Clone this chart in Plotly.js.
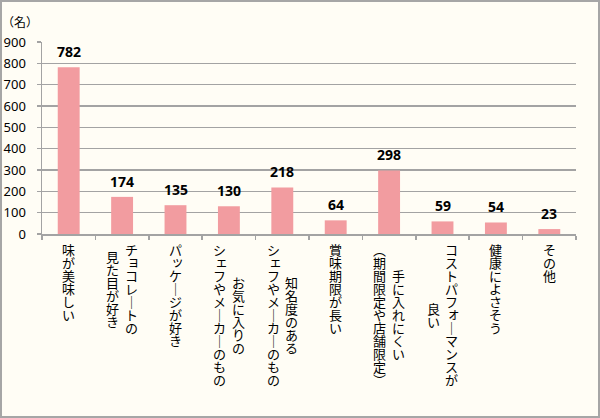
<!DOCTYPE html>
<html>
<head>
<meta charset="utf-8">
<script src="https://cdn.plot.ly/plotly-3.0.1.min.js"></script>
<style>
  html, body { margin: 0; padding: 0; background: #fffdf5; }
  #wrap { position: relative; width: 600px; height: 418px; }
  #chart { width: 600px; height: 418px; }
  #frame { position: absolute; left: 0; top: 0; width: 600px; height: 418px; box-sizing: border-box;
           border: 2px solid #a6a6a6; pointer-events: none; }
</style>
</head>
<body>
<div id="wrap"><div id="chart"></div><div id="frame"></div></div>
<script>
// ---- data ----
const categories = ["味が美味しい", "チョコレートの見た目が好き", "パッケージが好き",
  "お気に入りのシェフやメーカーのもの", "知名度のあるシェフやメーカーのもの", "賞味期限が長い",
  "手に入れにくい（期間限定や店舗限定）", "コストパフォーマンスが良い", "健康によさそう", "その他"];
// label lines, first line drawn as the rightmost column (vertical writing)
const labelLines = [
  ["味が美味しい"],
  ["チョコレートの", "見た目が好き"],
  ["パッケージが好き"],
  ["お気に入りの", "シェフやメーカーのもの"],
  ["知名度のある", "シェフやメーカーのもの"],
  ["賞味期限が長い"],
  ["手に入れにくい", "（期間限定や店舗限定）"],
  ["コストパフォーマンスが", "良い"],
  ["健康によさそう"],
  ["その他"]
];
const values = [782, 174, 135, 130, 218, 64, 298, 59, 54, 23];
const yTickVals = [0, 100, 200, 300, 400, 500, 600, 700, 800, 900];
const unitLabel = "（名）";

// ---- style ----
const barColor = "#f29ca0";
const gridColor = "#a3a3a3";
const bg = "#fffdf5";
const jpFont = "Noto Sans CJK JP";

const verticalForms = { "ー": "｜", "（": "︵", "）": "︶" };
const smallKana = "ョェッォャュァィゥ";

const annotations = [];
// value labels
values.forEach((v, i) => {
  annotations.push({
    x: categories[i], y: v, xref: "x", yref: "y", text: "<b>" + v + "</b>",
    showarrow: false, yanchor: "bottom", yshift: 4,
    font: { family: "Noto Sans, sans-serif", size: 14, color: "#000" }
  });
});
// vertical category labels
const step = 13, topGap = 9, colGap = 18.5;
labelLines.forEach((lines, ci) => {
  const maxLen = Math.max(...lines.map(l => Array.from(l).length));
  const n = lines.length;
  lines.forEach((line, li) => {
    const chars = Array.from(line);
    const xoff = ((n - 1) / 2 - li) * colGap;
    const yoff0 = topGap + (maxLen - chars.length) * step / 2;
    chars.forEach((ch, k) => {
      const small = smallKana.includes(ch);
      annotations.push({
        x: categories[ci], y: 0, xref: "x", yref: "y",
        text: verticalForms[ch] || ch, showarrow: false,
        xanchor: "center", yanchor: "middle",
        xshift: xoff + (small ? 2 : 0),
        yshift: -(yoff0 + step / 2 + k * step) + (small ? 2 : 0),
        font: { family: jpFont, size: 13, color: "#000" }
      });
    });
  });
});
annotations.push({
  x: 0, y: 1, xref: "paper", yref: "paper", text: unitLabel, showarrow: false,
  xanchor: "right", yanchor: "middle", xshift: -2, yshift: 21,
  font: { family: jpFont, size: 12, color: "#000" }
});

const trace = {
  type: "bar", x: categories, y: values,
  marker: { color: barColor, line: { width: 0 } },
  hoverinfo: "skip"
};

const layout = {
  width: 600, height: 418,
  margin: { l: 42, r: 24, t: 42, b: 184, pad: 0 },
  paper_bgcolor: bg, plot_bgcolor: bg,
  bargap: 0.59,
  showlegend: false,
  xaxis: {
    type: "category", showticklabels: false, tickson: "boundaries",
    ticks: "outside", ticklen: 4, tickcolor: gridColor, tickwidth: 1.5,
    showline: true, linecolor: gridColor, linewidth: 1.5,
    showgrid: false, zeroline: false, fixedrange: true
  },
  yaxis: {
    range: [0, 900], tickvals: yTickVals, ticktext: yTickVals.map(String),
    ticks: "outside", ticklen: 4, tickcolor: gridColor, tickwidth: 1.5,
    showline: true, linecolor: gridColor, linewidth: 1.5,
    showgrid: true, gridcolor: gridColor, gridwidth: 1.5,
    zeroline: false, ticklabelstandoff: 8,
    tickfont: { family: "Noto Sans, sans-serif", size: 13, color: "#000" },
    fixedrange: true
  },
  annotations: annotations
};

Plotly.newPlot("chart", [trace], layout, { displayModeBar: false, staticPlot: true });
</script>
</body>
</html>
